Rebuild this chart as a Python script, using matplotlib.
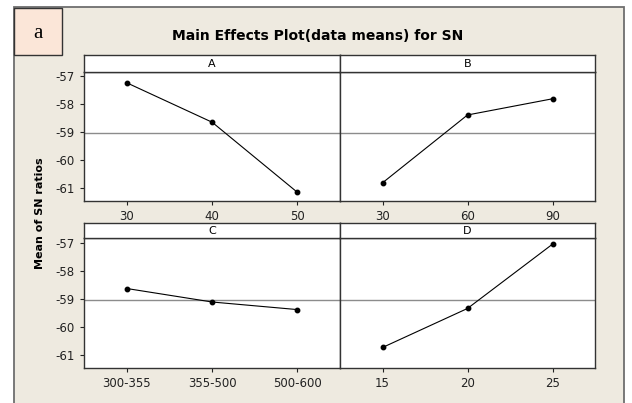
import matplotlib.pyplot as plt
from matplotlib.patches import Rectangle
import numpy as np

# factor levels and mean SN ratios per level
levels_a = ["30", "40", "50"]
sn_a = [-57.23, -58.64, -61.15]
levels_b = ["30", "60", "90"]
sn_b = [-60.81, -58.38, -57.80]
levels_c = ["300-355", "355-500", "500-600"]
sn_c = [-58.63, -59.11, -59.38]
levels_d = ["15", "20", "25"]
sn_d = [-60.73, -59.34, -57.05]

factor_names = ["A", "B", "C", "D"]
yticks = [-57, -58, -59, -60, -61]

BEIGE = "#eeeae0"
PEACH = "#fbe6d8"

grand_mean = np.mean(sn_a + sn_b + sn_c + sn_d)

fig = plt.figure(figsize=(6.32, 4.03), dpi=100)
fig.patch.set_facecolor("white")

# beige frame with the panel label box (drawn beneath the axes)
W, H = 632.0, 403.0
fig.patches.append(Rectangle((14 / W, -0.05), 610 / W, 1.05 - 7 / H,
                             transform=fig.transFigure, facecolor=BEIGE,
                             edgecolor="#6e6e6e", linewidth=1.3, zorder=-2))
fig.patches.append(Rectangle((14 / W, 1 - 55 / H), 48 / W, 47 / H,
                             transform=fig.transFigure, facecolor=PEACH,
                             edgecolor="#333333", linewidth=1.0, zorder=-1))
fig.text(38 / W, 1 - 33 / H, "a", fontsize=15, family="Liberation Serif",
         ha="center", va="center")

fig.text(318 / W, 1 - 36 / H, "Main Effects Plot(data means) for SN",
         fontsize=10, fontweight="bold", ha="center", va="center")
fig.text(40 / W, 1 - 213 / H, "Mean of SN ratios", fontsize=8,
         fontweight="bold", rotation=90, ha="center", va="center")

panels = [
    (levels_a, sn_a, 84.3, 340, 55.3, 71.7, 200.7),
    (levels_b, sn_b, 340, 595, 55.3, 71.7, 200.7),
    (levels_c, sn_c, 84.3, 340, 223.3, 238, 367.7),
    (levels_d, sn_d, 340, 595, 223.3, 238, 367.7),
]

for i, (labels, vals, x0, x1, s0, y0, y1) in enumerate(panels):
    ax = fig.add_axes([x0 / W, 1 - y1 / H, (x1 - x0) / W, (y1 - y0) / H])
    ax.set_zorder(2)
    ax.set_facecolor("white")
    pos = np.arange(len(labels))
    ax.axhline(grand_mean, color="#8c8c8c", lw=1.0, zorder=1)
    ax.plot(pos, vals, "-o", color="black", lw=0.8, ms=3.2, zorder=3)
    ax.set_xlim(-0.5, 2.5)
    ax.set_ylim(-61.45, -56.83)
    ax.set_xticks(pos)
    ax.set_xticklabels(labels, fontsize=8.5)
    ax.set_yticks(yticks)
    if i % 2 == 0:
        ax.set_yticklabels([str(t) for t in yticks], fontsize=8.5)
    else:
        ax.tick_params(axis="y", left=False, labelleft=False)
    ax.tick_params(direction="out", length=3, width=0.8, colors="#222222",
                   pad=4)
    for sp in ax.spines.values():
        sp.set_color("#333333")
        sp.set_linewidth(1.0)

    # strip with the factor name
    sx = fig.add_axes([x0 / W, 1 - y0 / H, (x1 - x0) / W, (y0 - s0) / H])
    sx.set_zorder(2)
    sx.set_facecolor("white")
    sx.set_xticks([])
    sx.set_yticks([])
    for sp in sx.spines.values():
        sp.set_color("#333333")
        sp.set_linewidth(1.0)
    sx.text(0.5, 0.45, factor_names[i], fontsize=8, ha="center",
            va="center", transform=sx.transAxes)

fig.savefig("out.png", dpi=100, facecolor=fig.get_facecolor())
